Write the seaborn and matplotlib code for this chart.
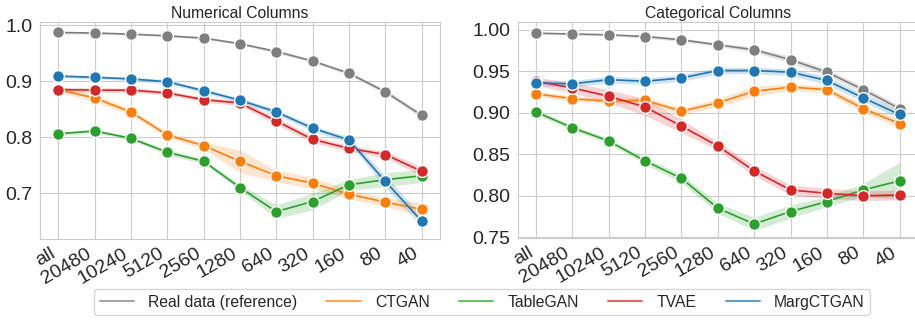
import numpy as np
import pandas as pd
import seaborn as sns
import matplotlib.pyplot as plt

sizes = ['all', '20480', '10240', '5120', '2560', '1280', '640', '320', '160', '80', '40']
models = ['Real data (reference)', 'CTGAN', 'TableGAN', 'TVAE', 'MargCTGAN']
colors = ['#7f7f7f', '#ff7f0e', '#2ca02c', '#d62728', '#1f77b4']

# numerical columns (mean and half-width of the shaded band)
num_real = [0.987, 0.986, 0.984, 0.981, 0.977, 0.967, 0.953, 0.936, 0.914, 0.881, 0.839]
num_ctgan = [0.885, 0.870, 0.845, 0.804, 0.785, 0.757, 0.731, 0.718, 0.698, 0.684, 0.671]
num_tablegan = [0.806, 0.811, 0.798, 0.773, 0.757, 0.710, 0.667, 0.685, 0.715, 0.724, 0.731]
num_tvae = [0.885, 0.884, 0.884, 0.879, 0.867, 0.861, 0.829, 0.796, 0.780, 0.769, 0.739]
num_marg = [0.909, 0.907, 0.904, 0.899, 0.883, 0.866, 0.845, 0.816, 0.795, 0.721, 0.650]

num_real_ci = [0.002, 0.002, 0.002, 0.002, 0.002, 0.002, 0.003, 0.003, 0.003, 0.004, 0.005]
num_ctgan_ci = [0.004, 0.007, 0.005, 0.005, 0.006, 0.020, 0.010, 0.010, 0.008, 0.008, 0.012]
num_tablegan_ci = [0.003, 0.003, 0.003, 0.005, 0.004, 0.005, 0.012, 0.015, 0.010, 0.012, 0.012]
num_tvae_ci = [0.004, 0.004, 0.004, 0.004, 0.004, 0.005, 0.006, 0.006, 0.005, 0.006, 0.008]
num_marg_ci = [0.003, 0.003, 0.003, 0.004, 0.004, 0.004, 0.005, 0.005, 0.006, 0.010, 0.010]

# categorical columns
cat_real = [0.996, 0.995, 0.994, 0.992, 0.988, 0.982, 0.976, 0.964, 0.949, 0.928, 0.905]
cat_ctgan = [0.923, 0.917, 0.914, 0.915, 0.902, 0.912, 0.926, 0.931, 0.928, 0.905, 0.887]
cat_tablegan = [0.901, 0.882, 0.866, 0.842, 0.821, 0.785, 0.766, 0.781, 0.793, 0.807, 0.818]
cat_tvae = [0.938, 0.930, 0.920, 0.907, 0.884, 0.860, 0.830, 0.807, 0.803, 0.800, 0.801]
cat_marg = [0.936, 0.935, 0.940, 0.938, 0.942, 0.951, 0.951, 0.949, 0.939, 0.918, 0.898]

cat_real_ci = [0.001, 0.001, 0.001, 0.002, 0.002, 0.002, 0.003, 0.004, 0.004, 0.004, 0.004]
cat_ctgan_ci = [0.003, 0.003, 0.003, 0.004, 0.004, 0.005, 0.006, 0.004, 0.004, 0.005, 0.005]
cat_tablegan_ci = [0.003, 0.003, 0.003, 0.004, 0.005, 0.006, 0.008, 0.008, 0.006, 0.008, 0.022]
cat_tvae_ci = [0.005, 0.006, 0.008, 0.010, 0.008, 0.005, 0.006, 0.006, 0.006, 0.006, 0.006]
cat_marg_ci = [0.003, 0.004, 0.004, 0.004, 0.004, 0.004, 0.004, 0.004, 0.005, 0.005, 0.005]

panels = [
    ('Numerical Columns',
     [num_real, num_ctgan, num_tablegan, num_tvae, num_marg],
     [num_real_ci, num_ctgan_ci, num_tablegan_ci, num_tvae_ci, num_marg_ci],
     (0.618, 1.005), [0.7, 0.8, 0.9, 1.0], '{:.1f}'),
    ('Categorical Columns',
     [cat_real, cat_ctgan, cat_tablegan, cat_tvae, cat_marg],
     [cat_real_ci, cat_ctgan_ci, cat_tablegan_ci, cat_tvae_ci, cat_marg_ci],
     (0.749, 1.009), [0.75, 0.80, 0.85, 0.90, 0.95, 1.00], '{:.2f}'),
]

sns.set_style('whitegrid')
plt.rcParams['font.family'] = ['Liberation Sans', 'DejaVu Sans']

fig = plt.figure(figsize=(9.15, 3.2), dpi=100)
axes = [fig.add_axes([0.0437, 0.253, 0.437, 0.677]),
        fig.add_axes([0.566, 0.256, 0.437, 0.674])]
palette = dict(zip(models, colors))

for ax, (title, series, bands, ylim, yticks, fmt) in zip(axes, panels):
    rows = []
    for m, vals in zip(models, series):
        for s, v in zip(sizes, vals):
            rows.append({'size': s, 'score': v, 'model': m})
    df = pd.DataFrame(rows)
    sns.lineplot(data=df, x='size', y='score', hue='model', palette=palette,
                 marker='o', markersize=8.5, markeredgecolor='white',
                 markeredgewidth=1, linewidth=1.2, errorbar=None,
                 legend=False, ax=ax, sort=False)
    pos = np.arange(len(sizes))
    for vals, ci, c in zip(series, bands, colors):
        v = np.array(vals)
        e = np.array(ci)
        ax.fill_between(pos, v - e, v + e, color=c, alpha=0.2, linewidth=0)
    ax.set_title(title, fontsize=11.3, pad=3)
    ax.set_xlim(-0.5, 10.5)
    ax.set_ylim(*ylim)
    ax.set_yticks(yticks)
    ax.set_yticklabels([fmt.format(t) for t in yticks], fontsize=14)
    ax.set_xticks(pos)
    ax.set_xticklabels(sizes, rotation=30, ha='right', fontsize=14)
    ax.tick_params(axis='x', pad=1)
    ax.tick_params(axis='y', pad=2)
    ax.set_xlabel('')
    ax.set_ylabel('')

handles = [plt.Line2D([], [], color=c, linewidth=1.5, alpha=0.7) for c in colors]
fig.legend(handles, models, loc='lower center', ncol=5, fontsize=11.3,
           bbox_to_anchor=(0.527, -0.01), frameon=True, handlelength=2.2,
           handletextpad=0.9, columnspacing=1.85, borderpad=0.35)

fig.savefig('out.png', dpi=100)
